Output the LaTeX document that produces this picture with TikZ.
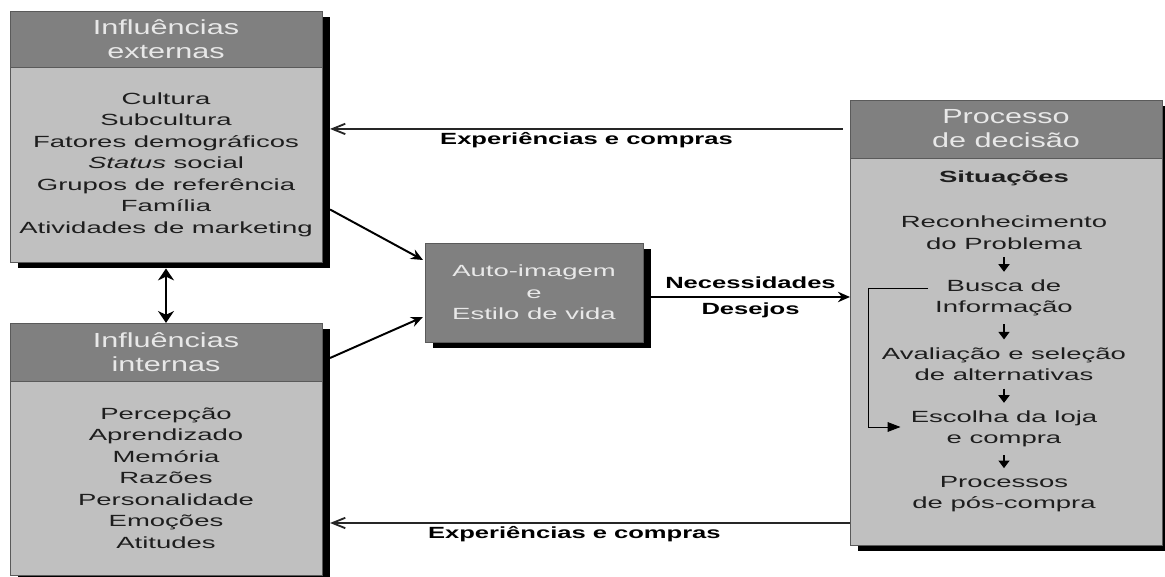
\documentclass[tikz,border=0pt]{standalone}
\usepackage{fontspec}
\setmainfont[FakeStretch=1.7]{Liberation Sans}
\newfontfamily\headfont[FakeStretch=1.5]{Liberation Sans}
\newfontfamily\lblfont[FakeStretch=1.58]{Liberation Sans}
\usepackage{tikz}
\usetikzlibrary{arrows.meta,shadows,positioning}
\definecolor{headgray}{HTML}{808080}
\definecolor{bodygray}{HTML}{C0C0C0}
\definecolor{framegray}{HTML}{5A5A5A}
\definecolor{headtext}{HTML}{E8E8E8}
\definecolor{bodytext}{HTML}{1E1E1E}

\begin{document}
\begin{tikzpicture}[x=0.025cm,y=0.025cm,
  frame/.style={draw=framegray,line width=0.6pt,fill=bodygray,inner sep=0pt,outer sep=0pt,
    drop shadow={shadow xshift=0.2cm,shadow yshift=-0.16cm,fill=black,opacity=1}},
  head/.style={draw=framegray,line width=0.6pt,fill=headgray,text=headtext,anchor=north,
    minimum width=7.8cm,inner sep=0pt,outer sep=0pt,align=center,
    font={\headfont\fontsize{14.5}{17}\selectfont}},
  items/.style={align=center,text=bodytext,inner sep=0pt,font={\fontsize{11.5}{15.3}\selectfont}},
  lbl/.style={font={\lblfont\bfseries\fontsize{11.5}{14}\selectfont},text=black,inner sep=1.5pt},
  flow/.style={line width=1.3pt,draw=black!85,-{Straight Barb[length=0.32cm,width=0.26cm]}},
  feed/.style={line width=1.4pt,-{Stealth[length=0.3cm,width=0.26cm]}},
  stepto/.style={line width=0.8pt,shorten <=0.19cm,shorten >=0.19cm,-{Triangle[length=0.19cm,width=0.28cm]}},
  bypass/.style={line width=0.6pt,-{Triangle[length=0.32cm,width=0.24cm]}}]
\useasboundingbox (0,0) rectangle (1165,577);

\node[frame,minimum width=7.8cm,minimum height=6.275cm] (ext) at (166,440.5) {};
\node[head,minimum height=1.4cm] (exthead) at (ext.north) {Influências\\externas};
\node[items] (extlist) at (166,412.5) {Cultura\\Subcultura\\Fatores demográficos\\\textit{Status} social\\Grupos de referência\\Família\\Atividades de marketing};

\node[frame,minimum width=7.8cm,minimum height=6.3cm] (int) at (166,128) {};
\node[head,minimum height=1.45cm] (inthead) at (int.north) {Influências\\internas};
\node[items] (intlist) at (166,99) {Percepção\\Aprendizado\\Memória\\Razões\\Personalidade\\Emoções\\Atitudes};

\node[frame,items,fill=headgray,text=headtext,minimum width=5.45cm,minimum height=2.475cm] (self) at (534,284.5) {Auto-imagem\\e\\Estilo de vida};

\node[frame,minimum width=7.8cm,minimum height=11.125cm] (proc) at (1006,254.5) {};
\node[head,minimum height=1.45cm] (prochead) at (proc.north) {Processo\\de decisão};
\node[items,font={\bfseries\fontsize{11.5}{15.3}\selectfont}] (sit) at (1004,399) {Situações};
\node[items] (rec) at (1004,344.5) {Reconhecimento\\do Problema};
\node[items] (bus) at (1004,279) {Busca de\\Informação};
\node[items] (ava) at (1004,213) {Avaliação e seleção\\de alternativas};
\node[items] (esc) at (1004,148) {Escolha da loja\\e compra};
\node[items] (pos) at (1004,83) {Processos\\de pós-compra};

\foreach \a/\b in {rec/bus,bus/ava,ava/esc,esc/pos}
  \draw[stepto] (\a) -- (\b);
\coordinate (bystart) at (928,289);
\draw[bypass] (bystart) -- ++(-60,0) |- ([xshift=-0.25cm,yshift=0.05cm]esc.west);

\draw[line width=1.4pt,{Stealth[length=0.3cm,width=0.4cm]}-{Stealth[length=0.3cm,width=0.4cm]}] (int.north) -- ([yshift=-0.16cm]ext.south);
\draw[feed] ([shift={(8,-73)}]ext.east) -- ([shift={(-2,32.5)}]self.west);
\draw[feed] ([shift={(8,91)}]int.east) -- ([shift={(-2,-24.5)}]self.west);

\coordinate (needs) at ([shift={(8,-4.5)}]self.east);
\draw[feed] (needs) -- (proc.west |- needs)
  node[lbl,midway,above=3.5pt] {Necessidades}
  node[lbl,midway,below=2pt] {Desejos};

\coordinate (extshadow) at ([xshift=0.2cm]ext.east);
\coordinate (intshadow) at ([xshift=0.2cm]int.east);
\coordinate (fromproc) at ([xshift=-0.175cm]prochead.west);
\coordinate (ybot) at (0,54);
\draw[flow] (fromproc) -- (extshadow |- fromproc) node[lbl,midway,below] {Experiências e compras};
\draw[flow] (proc.west |- ybot) -- (intshadow |- ybot) node[lbl,pos=0.53,below] {Experiências e compras};
\end{tikzpicture}
\end{document}
